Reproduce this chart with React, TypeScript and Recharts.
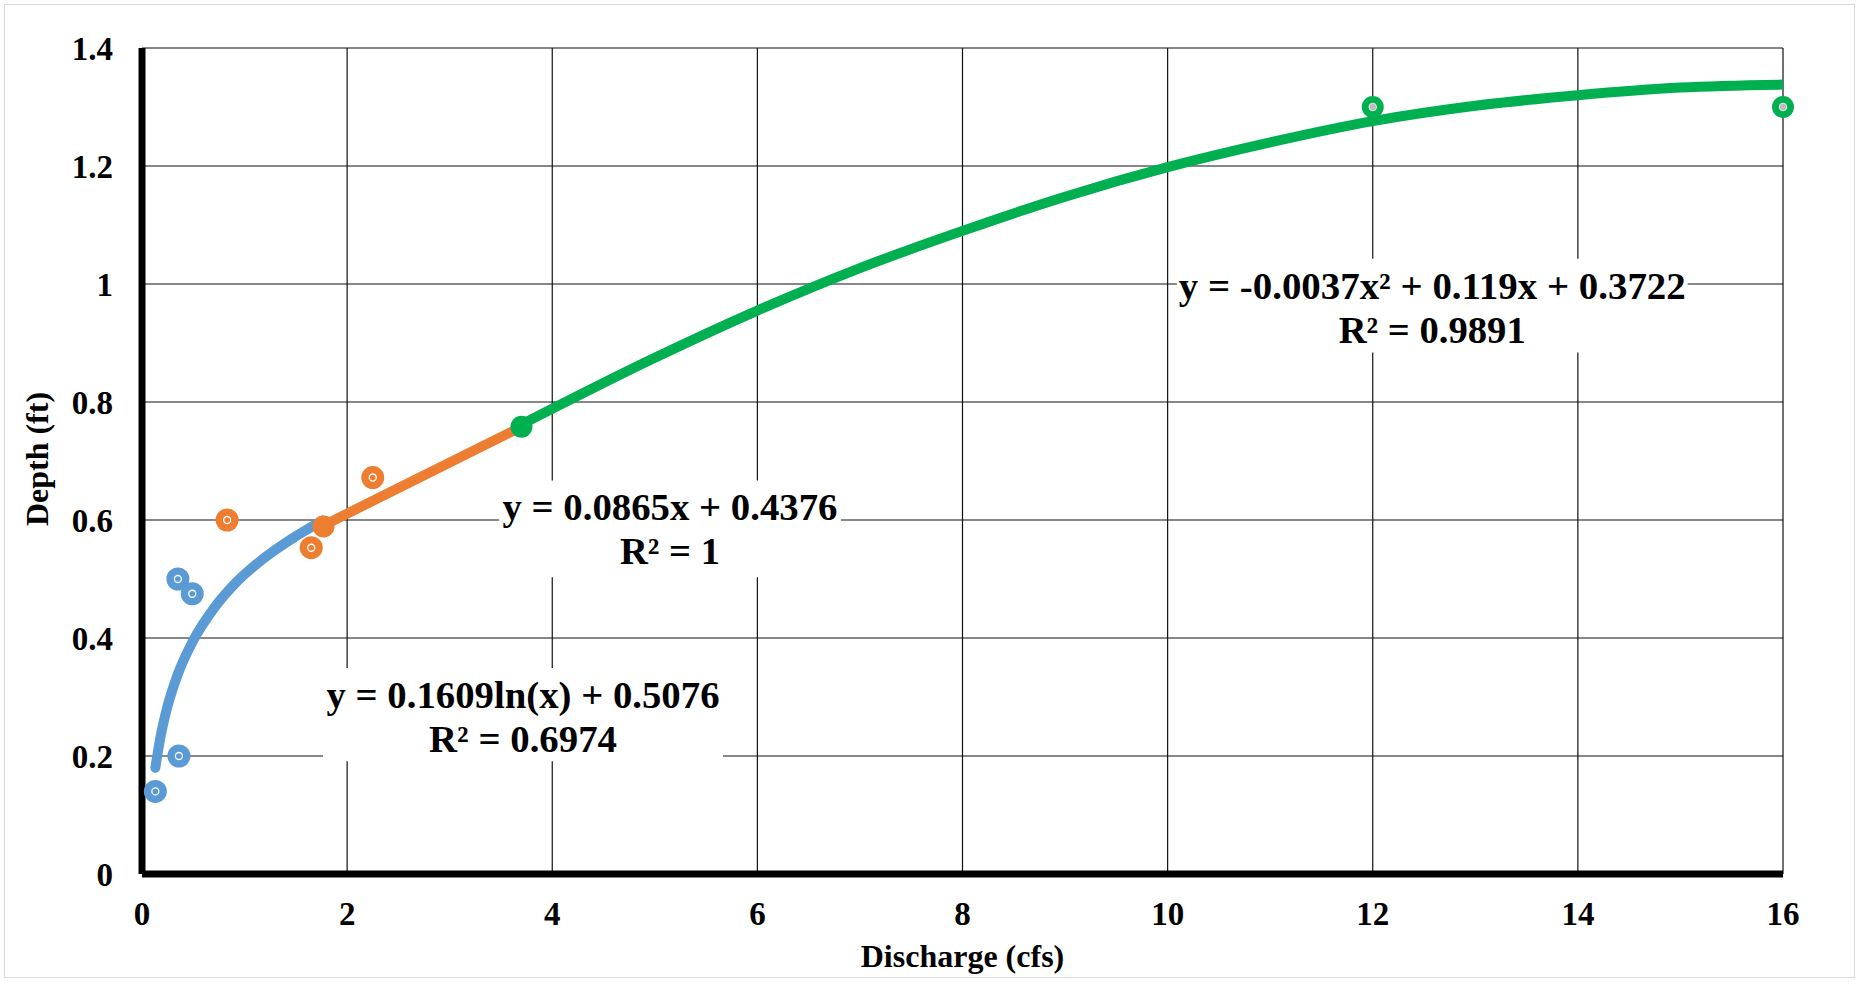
import { ComposedChart, Line, Scatter, XAxis, YAxis, CartesianGrid, ReferenceArea } from 'recharts'

const FONT = '"Liberation Serif", "Times New Roman", Times, serif'

// axis ticks
const xTicks = [0, 2, 4, 6, 8, 10, 12, 14, 16]
const yTicks = [0, 0.2, 0.4, 0.6, 0.8, 1, 1.2, 1.4]

const blueX = [0.13, 0.36, 0.35, 0.49]
const blueY = [0.14, 0.2, 0.5, 0.475]
const orangeX = [0.83, 1.65, 2.25]
const orangeY = [0.6, 0.553, 0.672]
const orangeJoinX = [1.77]
const orangeJoinY = [0.589]
const greenJoinX = [3.7]
const greenJoinY = [0.758]
const greenX = [12, 16]
const greenY = [1.3, 1.3]

// trendlines, sampled along the drawn curves
const blueFitX = [0.13, 0.18, 0.25, 0.35, 0.5, 0.7, 0.9, 1.15, 1.45, 1.76]
const blueFitY = [0.18, 0.232, 0.285, 0.339, 0.396, 0.45, 0.491, 0.53, 0.567, 0.599]
const orangeFitX = [1.76, 3.7]
const orangeFitY = [0.59, 0.758]
const greenFitX = [3.7, 5, 6, 7, 8, 9, 10, 11, 12, 13, 14, 15, 16]
const greenFitY = [0.762, 0.875, 0.955, 1.027, 1.09, 1.148, 1.198, 1.24, 1.276, 1.302, 1.32, 1.333, 1.338]

// trendline equations
const blueEq = ['y = 0.1609ln(x) + 0.5076', 'R² = 0.6974']
const orangeEq = ['y = 0.0865x + 0.4376', 'R² = 1']
const greenEq = ['y = -0.0037x² + 0.119x + 0.3722', 'R² = 0.9891']

const BLUE = '#5b9bd5'
const ORANGE = '#ed7d31'
const GREEN = '#00b050'

const zip = (xs: number[], ys: number[]) => xs.map((x, i) => ({ x, y: ys[i] }))

const ringMarker = (color: string) => (props: any) => {
  const { cx, cy } = props
  return (
    <g>
      <circle cx={cx} cy={cy} r={11.5} fill={color} />
      <circle cx={cx} cy={cy} r={3.5} fill="none" stroke="#fff" strokeWidth={1.3} />
    </g>
  )
}

const greenMarker = (props: any) => {
  const { cx, cy } = props
  return (
    <g>
      <circle cx={cx} cy={cy} r={11} fill={GREEN} />
      <circle cx={cx} cy={cy} r={3.8} fill="#bdbdbd" stroke="#e6e6e6" strokeWidth={1} />
    </g>
  )
}

const dotMarker = (color: string) => (props: any) => {
  const { cx, cy } = props
  return <circle cx={cx} cy={cy} r={11} fill={color} />
}

function EqLabel({ viewBox, lines, widths }: any) {
  if (!viewBox) return null
  const { x, y, width } = viewBox
  const cx = x + width / 2
  const common = {
    x: cx,
    textAnchor: 'middle' as const,
    fontFamily: FONT,
    fontWeight: 'bold',
    fontSize: 38,
    fill: '#000',
    lengthAdjust: 'spacingAndGlyphs',
  }
  return (
    <g>
      <text {...common} y={y + 40} textLength={widths[0]}>{lines[0]}</text>
      <text {...common} y={y + 84} textLength={widths[1]}>{lines[1]}</text>
    </g>
  )
}

function XTitle({ viewBox }: any) {
  if (!viewBox) return null
  const { x, y, width } = viewBox
  return (
    <text x={x + width / 2} y={y + 93} textAnchor="middle" fontFamily={FONT} fontWeight="bold" fontSize={32} fill="#000">
      Discharge (cfs)
    </text>
  )
}

function YTitle({ viewBox }: any) {
  if (!viewBox) return null
  const { x, y, height } = viewBox
  const tx = x + 6
  const ty = y + height / 2 - 2
  return (
    <text x={tx} y={ty} transform={`rotate(-90, ${tx}, ${ty})`} textAnchor="middle" fontFamily={FONT} fontWeight="bold" fontSize={32} fill="#000">
      Depth (ft)
    </text>
  )
}

const tickStyle = { fontFamily: FONT, fontWeight: 'bold', fontSize: 33, fill: '#000' }

export default function App() {
  return (
    <div style={{ position: 'relative', width: 1859, height: 982, background: '#fff' }}>
      <style>{'body{margin:0}'}</style>
      <ComposedChart width={1859} height={982} margin={{ top: 48, right: 76, bottom: 48, left: 42 }}>
        <CartesianGrid stroke="#111" strokeWidth={1.2} />
        <XAxis
          type="number"
          dataKey="x"
          domain={[0, 16]}
          ticks={xTicks}
          interval={0}
          height={60}
          tickLine={false}
          tickSize={0}
          tickMargin={28}
          tick={tickStyle}
          axisLine={{ stroke: '#000', strokeWidth: 7 }}
          label={<XTitle />}
        />
        <YAxis
          type="number"
          dataKey="y"
          domain={[0, 1.4]}
          ticks={yTicks}
          interval={0}
          width={100}
          tickLine={false}
          tickSize={0}
          tickMargin={29}
          tick={tickStyle}
          axisLine={{ stroke: '#000', strokeWidth: 7 }}
          label={<YTitle />}
        />
        <ReferenceArea x1={1.765} x2={5.665} y1={0.191} y2={0.349} fill="#fff" fillOpacity={1} stroke="none" label={<EqLabel lines={blueEq} widths={[393, 188]} />} />
        <ReferenceArea x1={3.48} x2={6.815} y1={0.503} y2={0.667} fill="#fff" fillOpacity={1} stroke="none" label={<EqLabel lines={orangeEq} widths={[335, 100]} />} />
        <ReferenceArea x1={10.09} x2={15.07} y1={0.884} y2={1.043} fill="#fff" fillOpacity={1} stroke="none" label={<EqLabel lines={greenEq} widths={[507, 187]} />} />
        <Line data={zip(blueFitX, blueFitY)} dataKey="y" type="monotone" stroke={BLUE} strokeWidth={10} strokeLinecap="round" dot={false} activeDot={false} isAnimationActive={false} />
        <Line data={zip(orangeFitX, orangeFitY)} dataKey="y" type="linear" stroke={ORANGE} strokeWidth={10} strokeLinecap="round" dot={false} activeDot={false} isAnimationActive={false} />
        <Line data={zip(greenFitX, greenFitY)} dataKey="y" type="monotone" stroke={GREEN} strokeWidth={10} dot={false} activeDot={false} isAnimationActive={false} />
        <Scatter data={zip(orangeJoinX, orangeJoinY)} shape={dotMarker(ORANGE)} isAnimationActive={false} />
        <Scatter data={zip(greenJoinX, greenJoinY)} shape={dotMarker(GREEN)} isAnimationActive={false} />
        <Scatter data={zip(blueX, blueY)} shape={ringMarker(BLUE)} isAnimationActive={false} />
        <Scatter data={zip(orangeX, orangeY)} shape={ringMarker(ORANGE)} isAnimationActive={false} />
        <Scatter data={zip(greenX, greenY)} shape={greenMarker} isAnimationActive={false} />
      </ComposedChart>
      <div style={{ position: 'absolute', left: 4, top: 4, width: 1849, height: 972, border: '1px solid #d9d9d9', pointerEvents: 'none' }} />
    </div>
  )
}
